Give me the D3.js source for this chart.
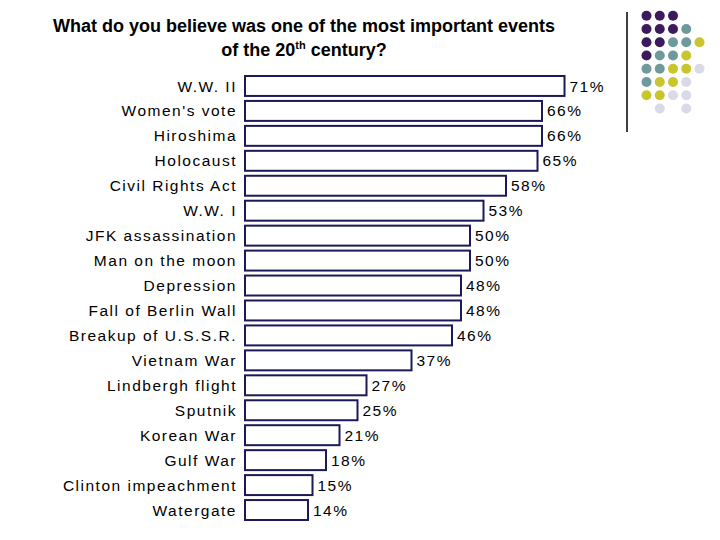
<!DOCTYPE html>
<html>
<head>
<meta charset="utf-8">
<script src="https://cdn.jsdelivr.net/npm/d3@7"></script>
<style>
  html, body { margin: 0; padding: 0; background: #ffffff; }
  svg { display: block; }
</style>
</head>
<body>
<svg id="chart" width="720" height="540"></svg>
<script>
const categories = ["W.W. II", "Women's vote", "Hiroshima", "Holocaust", "Civil Rights Act", "W.W. I",
  "JFK assassination", "Man on the moon", "Depression", "Fall of Berlin Wall", "Breakup of U.S.S.R.",
  "Vietnam War", "Lindbergh flight", "Sputnik", "Korean War", "Gulf War", "Clinton impeachment", "Watergate"];
const values = [71, 66, 66, 65, 58, 53, 50, 50, 48, 48, 46, 37, 27, 25, 21, 18, 15, 14];

// decorative dot grid (row, col, colour index)
const dotColors = ["#3d1a5e", "#6f9a9c", "#c9c52c", "#d9d9e9"];
const dotRows = [
  [0, 0, 0],
  [0, 0, 0, 1],
  [0, 0, 1, 1, 2],
  [0, 1, 1, 2],
  [1, 1, 2, 2, 3],
  [1, 2, 2, 3],
  [2, 2, 3, 3],
  [null, 3, null, 3]
];

const svg = d3.select("#chart");

// Title
const title = svg.append("g")
  .attr("font-family", "'Liberation Sans', Arial, sans-serif")
  .attr("font-weight", "bold")
  .attr("font-size", 18)
  .attr("fill", "#000")
  .attr("text-anchor", "middle");
title.append("text").attr("x", 304).attr("y", 32)
  .text("What do you believe was one of the most important events");
const t2 = title.append("text").attr("x", 304).attr("y", 56);
t2.append("tspan").text("of the 20");
t2.append("tspan").attr("font-size", 11).attr("dy", -7).text("th");
t2.append("tspan").attr("dy", 7).text(" century?");

// Scales
const x = d3.scaleLinear().domain([0, 100]).range([245, 695]);
const y = d3.scaleBand().domain(categories).range([71, 525]).paddingInner(0.2).paddingOuter(0.2);

const g = svg.append("g")
  .attr("font-family", "'Liberation Sans', Arial, sans-serif")
  .attr("font-size", 15.5)
  .attr("letter-spacing", 1.5)
  .attr("fill", "#000");

g.selectAll("rect.bar").data(values).join("rect")
  .attr("class", "bar")
  .attr("x", x(0))
  .attr("y", (d, i) => y(categories[i]))
  .attr("width", d => x(d) - x(0))
  .attr("height", y.bandwidth())
  .attr("fill", "#ffffff")
  .attr("stroke", "#1b1958")
  .attr("stroke-width", 2);

g.selectAll("text.cat").data(categories).join("text")
  .attr("class", "cat")
  .attr("x", 237)
  .attr("y", d => y(d) + y.bandwidth() / 2)
  .attr("dy", "0.36em")
  .attr("text-anchor", "end")
  .text(d => d);

g.selectAll("text.val").data(values).join("text")
  .attr("class", "val")
  .attr("x", d => x(d) + 5)
  .attr("y", (d, i) => y(categories[i]) + y.bandwidth() / 2)
  .attr("dy", "0.36em")
  .text(d => d + "%");

// Decoration
const deco = svg.append("g");
deco.append("line").attr("x1", 627).attr("x2", 627).attr("y1", 12).attr("y2", 132)
  .attr("stroke", "#000").attr("stroke-width", 1.5);
const dots = [];
dotRows.forEach((row, r) => row.forEach((c, k) => { if (c !== null) dots.push({ r, k, c }); }));
const dx = d3.scaleLinear().domain([0, 4]).range([646.5, 699.5]);
const dy = d3.scaleLinear().domain([0, 7]).range([15.8, 108.5]);
deco.selectAll("circle").data(dots).join("circle")
  .attr("cx", d => dx(d.k))
  .attr("cy", d => dy(d.r))
  .attr("r", 5)
  .attr("fill", d => dotColors[d.c]);
</script>
</body>
</html>
